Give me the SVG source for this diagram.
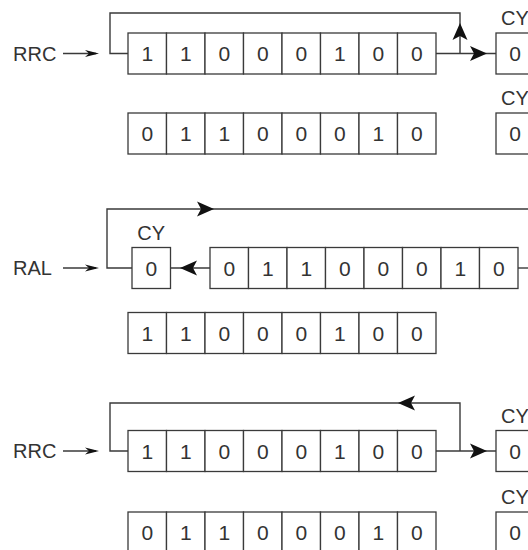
<svg xmlns="http://www.w3.org/2000/svg" width="528" height="550" viewBox="0 0 528 550">
<style>
.c{fill:#fff;stroke:#3a3a3a;stroke-width:1.3}
.t{font-family:"Liberation Sans",Arial,sans-serif;font-size:21px;fill:#333;text-anchor:middle}
.y{font-family:"Liberation Sans",Arial,sans-serif;font-size:20px;fill:#333;text-anchor:middle}
.l{font-family:"Liberation Sans",Arial,sans-serif;font-size:20px;fill:#333}
.w{fill:none;stroke:#3a3a3a;stroke-width:1.4}
.a{fill:#111}
</style>
<defs>
<path id="ah" d="M0,0 L-17,-7.5 L-13,0 L-17,7.5 Z"/>
<path id="sah" d="M0,0 L-14,-3.4 L-10,0 L-14,3.4 Z"/>
</defs>
<rect width="528" height="550" fill="#fff"/>

<g id="connectors">
  <line class="w" x1="63" y1="53.5" x2="96" y2="53.5"/>
  <use href="#sah" class="a" transform="translate(99,53.5)"/>
  <path class="w" d="M128,53.5 H110 V13 H460 V53.5"/>
  <line class="w" x1="436" y1="53.5" x2="496" y2="53.5"/>
  <use href="#ah" class="a" transform="translate(460,23) rotate(-90)"/>
  <use href="#ah" class="a" transform="translate(487,53.5)"/>
  <line class="w" x1="63" y1="268" x2="96" y2="268"/>
  <use href="#sah" class="a" transform="translate(99,268)"/>
  <path class="w" d="M132,268 H107 V209 H528"/>
  <use href="#ah" class="a" transform="translate(214,209)"/>
  <line class="w" x1="170.5" y1="268" x2="210" y2="268"/>
  <use href="#ah" class="a" transform="translate(180,268) rotate(180)"/>
  <line class="w" x1="518" y1="268" x2="528" y2="268"/>
  <line class="w" x1="63" y1="451" x2="96" y2="451"/>
  <use href="#sah" class="a" transform="translate(99,451)"/>
  <path class="w" d="M128,451 H110 V403 H460 V451"/>
  <line class="w" x1="436" y1="451" x2="496" y2="451"/>
  <use href="#ah" class="a" transform="translate(398,403) rotate(180)"/>
  <use href="#ah" class="a" transform="translate(487,451)"/>
</g>

<g id="label-rrc-1"><text class="l" x="13" y="60.5">RRC</text></g>
<g id="label-ral"><text class="l" x="13" y="275">RAL</text></g>
<g id="label-rrc-2"><text class="l" x="13" y="458">RRC</text></g>

<g id="reg-top-before">
  <rect class="c" x="128" y="33" width="38.5" height="41"/>
  <rect class="c" x="166.5" y="33" width="38.5" height="41"/>
  <rect class="c" x="205" y="33" width="38.5" height="41"/>
  <rect class="c" x="243.5" y="33" width="38.5" height="41"/>
  <rect class="c" x="282" y="33" width="38.5" height="41"/>
  <rect class="c" x="320.5" y="33" width="38.5" height="41"/>
  <rect class="c" x="359" y="33" width="38.5" height="41"/>
  <rect class="c" x="397.5" y="33" width="38.5" height="41"/>
  <text class="t" y="61"><tspan x="147.25">1</tspan><tspan x="185.75">1</tspan><tspan x="224.25">0</tspan><tspan x="262.75">0</tspan><tspan x="301.25">0</tspan><tspan x="339.75">1</tspan><tspan x="378.25">0</tspan><tspan x="416.75">0</tspan></text>
</g>
<g id="cy-top-before">
  <text class="y" x="515" y="25">CY</text>
  <rect class="c" x="496" y="33" width="38.5" height="41"/>
  <text class="t" x="515" y="61">0</text>
</g>
<g id="reg-top-after">
  <rect class="c" x="128" y="113" width="38.5" height="41"/>
  <rect class="c" x="166.5" y="113" width="38.5" height="41"/>
  <rect class="c" x="205" y="113" width="38.5" height="41"/>
  <rect class="c" x="243.5" y="113" width="38.5" height="41"/>
  <rect class="c" x="282" y="113" width="38.5" height="41"/>
  <rect class="c" x="320.5" y="113" width="38.5" height="41"/>
  <rect class="c" x="359" y="113" width="38.5" height="41"/>
  <rect class="c" x="397.5" y="113" width="38.5" height="41"/>
  <text class="t" y="141"><tspan x="147.25">0</tspan><tspan x="185.75">1</tspan><tspan x="224.25">1</tspan><tspan x="262.75">0</tspan><tspan x="301.25">0</tspan><tspan x="339.75">0</tspan><tspan x="378.25">1</tspan><tspan x="416.75">0</tspan></text>
</g>
<g id="cy-top-after">
  <text class="y" x="515" y="105">CY</text>
  <rect class="c" x="496" y="113" width="38.5" height="41"/>
  <text class="t" x="515" y="141">0</text>
</g>

<g id="cy-mid">
  <text class="y" x="151.25" y="240">CY</text>
  <rect class="c" x="132" y="247.5" width="38.5" height="41"/>
  <text class="t" x="151.25" y="275.5">0</text>
</g>
<g id="reg-mid-before">
  <rect class="c" x="210" y="247.5" width="38.5" height="41"/>
  <rect class="c" x="248.5" y="247.5" width="38.5" height="41"/>
  <rect class="c" x="287" y="247.5" width="38.5" height="41"/>
  <rect class="c" x="325.5" y="247.5" width="38.5" height="41"/>
  <rect class="c" x="364" y="247.5" width="38.5" height="41"/>
  <rect class="c" x="402.5" y="247.5" width="38.5" height="41"/>
  <rect class="c" x="441" y="247.5" width="38.5" height="41"/>
  <rect class="c" x="479.5" y="247.5" width="38.5" height="41"/>
  <text class="t" y="275.5"><tspan x="229.25">0</tspan><tspan x="267.75">1</tspan><tspan x="306.25">1</tspan><tspan x="344.75">0</tspan><tspan x="383.25">0</tspan><tspan x="421.75">0</tspan><tspan x="460.25">1</tspan><tspan x="498.75">0</tspan></text>
</g>
<g id="reg-mid-after">
  <rect class="c" x="128" y="312.5" width="38.5" height="41"/>
  <rect class="c" x="166.5" y="312.5" width="38.5" height="41"/>
  <rect class="c" x="205" y="312.5" width="38.5" height="41"/>
  <rect class="c" x="243.5" y="312.5" width="38.5" height="41"/>
  <rect class="c" x="282" y="312.5" width="38.5" height="41"/>
  <rect class="c" x="320.5" y="312.5" width="38.5" height="41"/>
  <rect class="c" x="359" y="312.5" width="38.5" height="41"/>
  <rect class="c" x="397.5" y="312.5" width="38.5" height="41"/>
  <text class="t" y="340.5"><tspan x="147.25">1</tspan><tspan x="185.75">1</tspan><tspan x="224.25">0</tspan><tspan x="262.75">0</tspan><tspan x="301.25">0</tspan><tspan x="339.75">1</tspan><tspan x="378.25">0</tspan><tspan x="416.75">0</tspan></text>
</g>

<g id="reg-bot-before">
  <rect class="c" x="128" y="430.5" width="38.5" height="41"/>
  <rect class="c" x="166.5" y="430.5" width="38.5" height="41"/>
  <rect class="c" x="205" y="430.5" width="38.5" height="41"/>
  <rect class="c" x="243.5" y="430.5" width="38.5" height="41"/>
  <rect class="c" x="282" y="430.5" width="38.5" height="41"/>
  <rect class="c" x="320.5" y="430.5" width="38.5" height="41"/>
  <rect class="c" x="359" y="430.5" width="38.5" height="41"/>
  <rect class="c" x="397.5" y="430.5" width="38.5" height="41"/>
  <text class="t" y="458.5"><tspan x="147.25">1</tspan><tspan x="185.75">1</tspan><tspan x="224.25">0</tspan><tspan x="262.75">0</tspan><tspan x="301.25">0</tspan><tspan x="339.75">1</tspan><tspan x="378.25">0</tspan><tspan x="416.75">0</tspan></text>
</g>
<g id="cy-bot-before">
  <text class="y" x="515" y="423">CY</text>
  <rect class="c" x="496" y="430.5" width="38.5" height="41"/>
  <text class="t" x="515" y="458.5">0</text>
</g>
<g id="reg-bot-after">
  <rect class="c" x="128" y="512" width="38.5" height="41"/>
  <rect class="c" x="166.5" y="512" width="38.5" height="41"/>
  <rect class="c" x="205" y="512" width="38.5" height="41"/>
  <rect class="c" x="243.5" y="512" width="38.5" height="41"/>
  <rect class="c" x="282" y="512" width="38.5" height="41"/>
  <rect class="c" x="320.5" y="512" width="38.5" height="41"/>
  <rect class="c" x="359" y="512" width="38.5" height="41"/>
  <rect class="c" x="397.5" y="512" width="38.5" height="41"/>
  <text class="t" y="540"><tspan x="147.25">0</tspan><tspan x="185.75">1</tspan><tspan x="224.25">1</tspan><tspan x="262.75">0</tspan><tspan x="301.25">0</tspan><tspan x="339.75">0</tspan><tspan x="378.25">1</tspan><tspan x="416.75">0</tspan></text>
</g>
<g id="cy-bot-after">
  <text class="y" x="515" y="504">CY</text>
  <rect class="c" x="496" y="512" width="38.5" height="41"/>
  <text class="t" x="515" y="540">0</text>
</g>
</svg>
